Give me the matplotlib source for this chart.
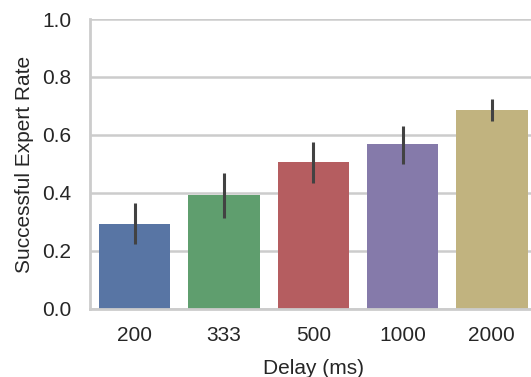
import matplotlib
matplotlib.use("Agg")
import matplotlib.pyplot as plt

# success rate per delay, with confidence interval bounds
delays = ["200", "333", "500", "1000", "2000"]
rates = [0.293, 0.393, 0.507, 0.569, 0.686]
ci_low = [0.224, 0.313, 0.433, 0.499, 0.647]
ci_high = [0.364, 0.468, 0.575, 0.631, 0.723]
colors = ["#5875A4", "#5F9E6E", "#B55D60", "#857AAA", "#C1B37F"]

plt.rcParams["font.family"] = ["Liberation Sans", "DejaVu Sans"]
plt.rcParams["text.color"] = "#262626"
plt.rcParams["axes.labelcolor"] = "#262626"
plt.rcParams["xtick.color"] = "#262626"
plt.rcParams["ytick.color"] = "#262626"

fig = plt.figure(figsize=(5.31, 3.77), dpi=100)
ax = fig.add_axes([0.1695, 0.1804, 0.8409, 0.7692])

pos = list(range(len(delays)))
ax.bar(pos, rates, width=0.8, color=colors, zorder=2)
ax.vlines(pos, ci_low, ci_high, color="#424242", linewidth=2.2, zorder=3)

ax.set_xlim(-0.5, len(delays) - 0.5)
ax.set_ylim(0, 1.0)
ax.set_xticks(pos)
ax.set_xticklabels(delays)
ax.set_yticks([0.0, 0.2, 0.4, 0.6, 0.8, 1.0])
ax.tick_params(axis="both", length=0, labelsize=15)
ax.tick_params(axis="y", pad=13.5)
ax.tick_params(axis="x", pad=12.5)

ax.yaxis.grid(True, color="#cccccc", linewidth=1.8, zorder=0)
ax.set_axisbelow(True)
for side in ["top", "right"]:
    ax.spines[side].set_visible(False)
for side in ["left", "bottom"]:
    ax.spines[side].set_color("#cccccc")
    ax.spines[side].set_linewidth(2)

ax.set_xlabel("Delay (ms)", fontsize=15, labelpad=9.5)
ax.set_ylabel("Successful Expert Rate", fontsize=15, labelpad=6)

fig.savefig("out.png", dpi=100)
